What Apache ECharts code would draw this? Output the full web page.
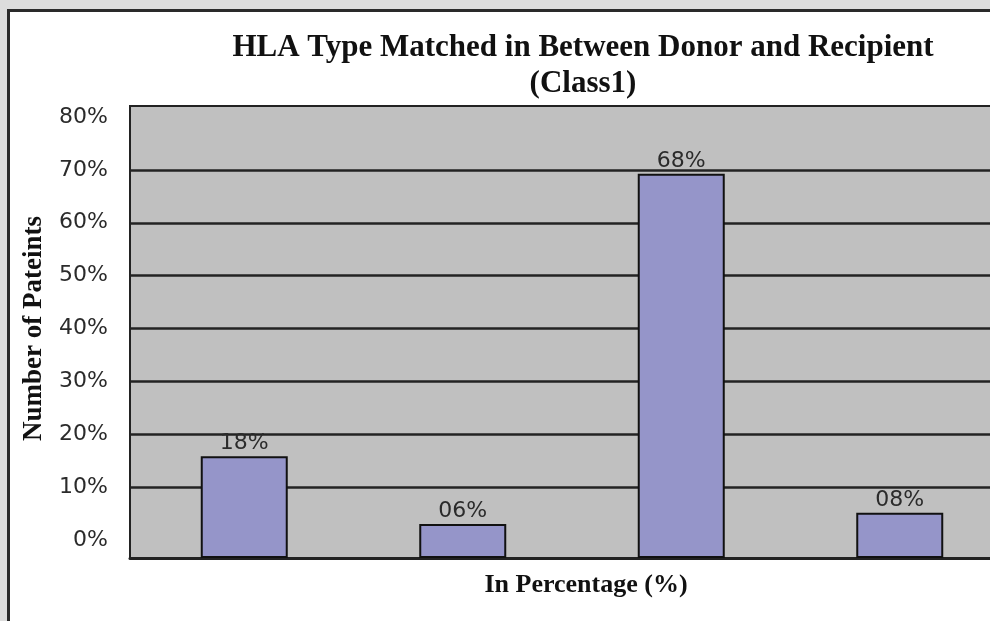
<!DOCTYPE html>
<html>
<head>
<meta charset="utf-8">
<script src="https://cdn.jsdelivr.net/npm/echarts@6/dist/echarts.min.js"></script>
<style>
  html, body { margin: 0; padding: 0; background: #dcdcdc; overflow: hidden; }
  #wrap { position: relative; width: 990px; height: 621px; overflow: hidden; }
  #panel { position: absolute; left: 7px; top: 9px; width: 1100px; height: 700px; background: #ffffff; border: 3px solid #2a2a2a; box-sizing: border-box; }
  #chart { position: absolute; left: 0; top: 0; width: 1100px; height: 621px; }
</style>
</head>
<body>
<div id="wrap">
  <div id="panel"></div>
  <div id="chart"></div>
</div>
<script>
const titleText = 'HLA Type Matched in Between Donor and Recipient\n(Class1)';
const xAxisName = 'In Percentage (%)';
const yAxisName = 'Number of Pateints';
const categories = ['1', '2', '3', '4'];
const values = [18, 6, 68, 8];
const valueLabels = ['18%', '06%', '68%', '08%'];
const yMin = 0, yMax = 80, yStep = 10;

const chart = echarts.init(document.getElementById('chart'), null, { renderer: 'canvas' });
const serif = '"Liberation Serif", "Times New Roman", serif';
const sans = '"DejaVu Sans", sans-serif';

chart.setOption({
  backgroundColor: 'transparent',
  animation: false,
  title: {
    text: titleText,
    left: 578,
    top: 25,
    textAlign: 'center',
    textStyle: { fontFamily: serif, fontWeight: 'bold', fontSize: 31, lineHeight: 36, color: '#111' }
  },
  grid: [
    { left: 135, top: 106, width: 874, height: 452 },
    { left: 130, top: 117, width: 900, height: 423 },
    { left: 130, top: 106, width: 912, height: 452, show: true, backgroundColor: '#c0c0c0', borderColor: '#222', borderWidth: 2 }
  ],
  xAxis: [
    { gridIndex: 0, type: 'category', data: categories, axisLine: { show: false }, axisTick: { show: false }, axisLabel: { show: false } },
    { gridIndex: 1, type: 'value', show: false },
    { gridIndex: 2, type: 'value', min: 0, max: 1,
      axisLine: { show: true, lineStyle: { color: '#222', width: 3 } },
      axisTick: { show: false }, axisLabel: { show: false }, splitLine: { show: false },
      name: xAxisName, nameLocation: 'middle', nameGap: 14,
      nameTextStyle: { fontFamily: serif, fontWeight: 'bold', fontSize: 26, color: '#111', verticalAlign: 'top' } }
  ],
  yAxis: [
    { gridIndex: 0, type: 'value', min: yMin, max: yMax, show: false },
    { gridIndex: 1, type: 'value', min: yMin, max: yMax, interval: yStep,
      axisLine: { show: false }, axisTick: { show: false },
      axisLabel: { margin: 22, fontFamily: sans, fontSize: 22, color: '#2b2b2b', formatter: v => v + '%' },
      splitLine: { show: true, showMinLine: false, showMaxLine: false, lineStyle: { color: '#232323', width: 2.5 } },
      name: yAxisName, nameLocation: 'middle', nameGap: 82, nameRotate: 90,
      nameTextStyle: { fontFamily: serif, fontWeight: 'bold', fontSize: 27, color: '#111' } },
    { gridIndex: 2, type: 'value', show: false }
  ],
  series: [{
    type: 'bar',
    xAxisIndex: 0, yAxisIndex: 0,
    data: values,
    barWidth: 87,
    itemStyle: { color: '#9595c9', borderColor: '#111', borderWidth: 2 },
    label: {
      show: true, position: 'top', distance: 2,
      fontFamily: sans, fontSize: 22, color: '#2b2b2b',
      formatter: p => valueLabels[p.dataIndex]
    },
    z: 3
  }]
});
</script>
</body>
</html>
